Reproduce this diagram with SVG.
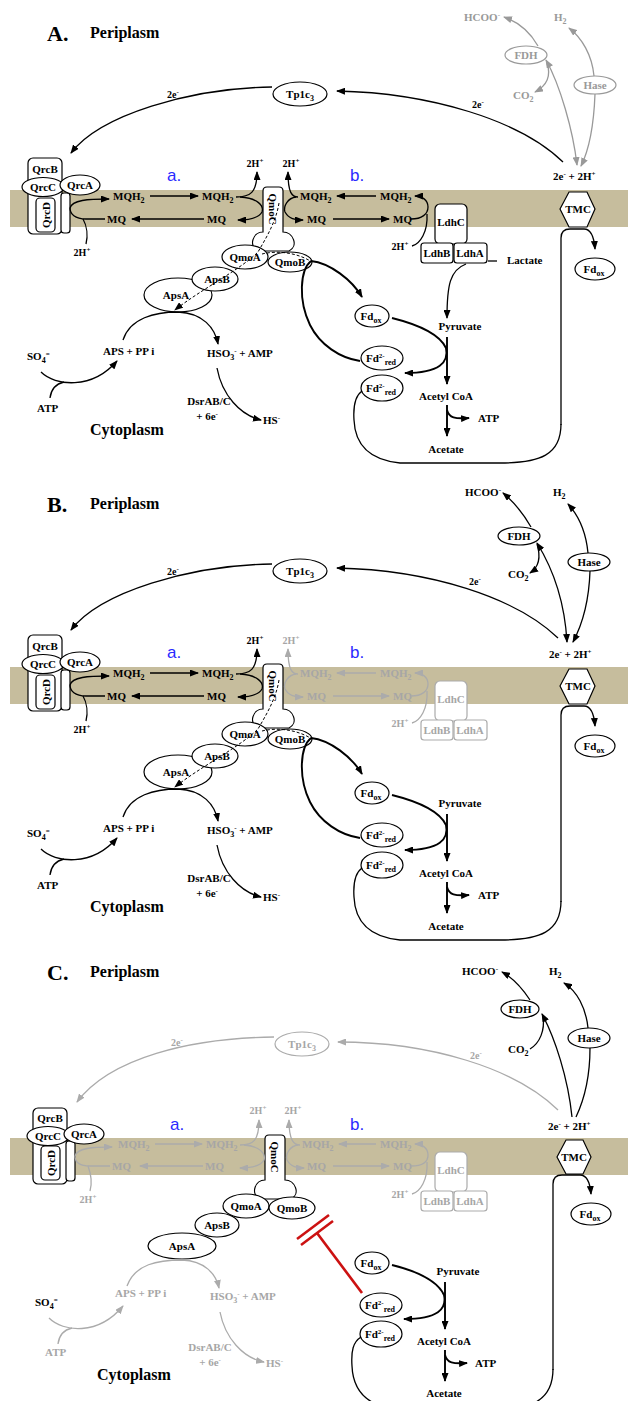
<svg xmlns="http://www.w3.org/2000/svg" width="628" height="1401" viewBox="0 0 628 1401">
<style>
.mem{fill:#c6bd9d}
.n{fill:#fff;stroke:#000;stroke-width:1.2}
.n.g{stroke:#ababab}
.n.ga{stroke:#999}
.t{font-family:"Liberation Serif","Times New Roman",serif;font-weight:bold;font-size:11px;fill:#000}
.t.g{fill:#a6a6a6}
.t.ga{fill:#999}
.s{font-size:10px}
.m{text-anchor:middle}
.sb{font-size:8px;baseline-shift:-2.5px}
.sp{font-size:7px;baseline-shift:4px}
.ti{font-family:"Liberation Serif",serif;font-weight:bold;font-size:22px}
.pl{font-family:"Liberation Serif",serif;font-weight:bold;font-size:16px}
.ab{font-family:"Liberation Sans",Arial,sans-serif;font-size:17px;fill:#2a2aff}
.l{fill:none;stroke:#000;stroke-width:1.3}
.l.g{stroke:#ababab}
.l.ga{stroke:#999}
.w{stroke-width:1.9}
.d{stroke-width:1;stroke-dasharray:3 2}
.r{fill:none;stroke:#cc1111;stroke-width:2.6}
</style>
<defs>
<marker id="ak" markerUnits="userSpaceOnUse" markerWidth="9" markerHeight="7" refX="8" refY="3.5" orient="auto-start-reverse"><path d="M0,0 L9,3.5 L0,7 z" fill="#000"/></marker>
<marker id="ag" markerUnits="userSpaceOnUse" markerWidth="9" markerHeight="7" refX="8" refY="3.5" orient="auto-start-reverse"><path d="M0,0 L9,3.5 L0,7 z" fill="#ababab"/></marker>
<marker id="aa" markerUnits="userSpaceOnUse" markerWidth="9" markerHeight="7" refX="8" refY="3.5" orient="auto-start-reverse"><path d="M0,0 L9,3.5 L0,7 z" fill="#999"/></marker>
</defs>
<rect width="628" height="1401" fill="#fff"/>

<!-- ================= PANEL A ================= -->
<g id="panelA">
<rect class="mem" x="10" y="190" width="618" height="37"/>
<g id="A-title"><text class="ti" x="47" y="41">A.</text><text class="pl" x="90" y="38">Periplasm</text></g>
<g id="A-ab"><text class="ab" x="167" y="181">a.</text><text class="ab" x="350" y="181">b.</text></g>
<g id="A-Tp1c3"><ellipse class="n" cx="300" cy="94" rx="27" ry="12"/><text class="t m" x="300" y="98">Tp1c<tspan class="sb">3</tspan></text></g>
<g id="A-Qrc">
<rect class="n" x="28" y="158" width="34" height="76" rx="5"/>
<rect class="n" x="61" y="193" width="9" height="40" rx="3"/>
<rect class="n" x="36" y="198" width="19" height="34" rx="4"/>
<text class="t m" x="45" y="173">QrcB</text>
<text class="t m" transform="translate(46,215) rotate(-90)" y="4">QrcD</text>
<ellipse class="n" cx="43" cy="187" rx="21" ry="9.5"/><text class="t m" x="43" y="191">QrcC</text>
<ellipse class="n" cx="80" cy="185" rx="20" ry="10"/><text class="t m" x="80" y="189">QrcA</text>
</g>
<g id="A-mq-a">
<text class="t" x="113" y="200">MQH<tspan class="sb">2</tspan></text>
<text class="t" x="202" y="200">MQH<tspan class="sb">2</tspan></text>
<text class="t" x="107" y="223">MQ</text>
<text class="t" x="207" y="223">MQ</text>
<text class="t s m" x="82" y="256">2H<tspan class="sp">+</tspan></text>
<text class="t s m" x="255" y="167">2H<tspan class="sp">+</tspan></text>
</g>
<g id="A-mq-b">
<text class="t" x="300" y="200">MQH<tspan class="sb">2</tspan></text>
<text class="t" x="380" y="200">MQH<tspan class="sb">2</tspan></text>
<text class="t" x="307" y="223">MQ</text>
<text class="t" x="393" y="223">MQ</text>
<text class="t s m" x="291" y="167">2H<tspan class="sp">+</tspan></text>
<text class="t s m" x="400" y="250">2H<tspan class="sp">+</tspan></text>
</g>
<g id="A-QmoC"><path class="n" d="M267 187 L279 187 Q283 187 283 191 L283 232 C293 232 299 246 289 251 L258 251 C248 246 253 232 263 232 L263 191 Q263 187 267 187 Z"/><text class="t m" transform="translate(273,209) rotate(90)" y="4">QmoC</text></g>
<g id="A-ApsA"><ellipse class="n" cx="178" cy="295" rx="34" ry="17"/><text class="t m" x="176" y="299">ApsA</text></g>
<g id="A-ApsB"><ellipse class="n" cx="215" cy="279" rx="23" ry="12"/><text class="t m" x="217" y="283">ApsB</text></g>
<g id="A-QmoA"><ellipse class="n" cx="245" cy="257" rx="23" ry="12"/><text class="t m" x="245" y="261">QmoA</text></g>
<g id="A-QmoB"><ellipse class="n" cx="290" cy="262" rx="22" ry="10"/><text class="t m" x="290" y="266">QmoB</text></g>
<g id="A-Ldh">
<rect class="n" x="435" y="204" width="32" height="40" rx="5"/><text class="t m" x="451" y="226">LdhC</text>
<rect class="n" x="421" y="243" width="32" height="20" rx="3"/><text class="t m" x="437" y="257">LdhB</text>
<rect class="n" x="454" y="243" width="33" height="20" rx="3"/><text class="t m" x="470" y="257">LdhA</text>
</g>
<g id="A-TMC"><polygon class="n" points="560,209 569,192 587,192 595,209 587,227 569,227"/><text class="t m" x="578" y="213">TMC</text></g>
<g id="A-Fdox2"><ellipse class="n" cx="595" cy="269" rx="20" ry="11"/><text class="t m" x="594" y="273">Fd<tspan class="sb">ox</tspan></text></g>
<g id="A-FDH"><ellipse class="n ga" cx="526" cy="55" rx="21" ry="9"/><text class="t ga m" x="526" y="59">FDH</text></g>
<g id="A-Hase"><ellipse class="n ga" cx="595" cy="85" rx="21" ry="9"/><text class="t ga m" x="595" y="89">Hase</text></g>
<g id="A-Fdox"><ellipse class="n" cx="372" cy="316" rx="17" ry="11"/><text class="t m" x="371" y="320">Fd<tspan class="sb">ox</tspan></text></g>
<g id="A-Fdred1"><ellipse class="n" cx="382" cy="358" rx="21" ry="12"/><text class="t m" x="381" y="362">Fd<tspan class="sp">2-</tspan><tspan class="sb">red</tspan></text></g>
<g id="A-Fdred2"><ellipse class="n" cx="382" cy="388" rx="21" ry="13"/><text class="t m" x="381" y="392">Fd<tspan class="sp">2-</tspan><tspan class="sb">red</tspan></text></g>
<g id="A-texts">
<text class="t ga" x="464" y="21">HCOO<tspan class="sp">-</tspan></text>
<text class="t ga" x="554" y="21">H<tspan class="sb">2</tspan></text>
<text class="t ga" x="513" y="99">CO<tspan class="sb">2</tspan></text>
<text class="t" x="553" y="180">2e<tspan class="sp">-</tspan> + 2H<tspan class="sp">+</tspan></text>
<text class="t s" x="472" y="108">2e<tspan class="sp">-</tspan></text>
<text class="t s" x="167" y="98">2e<tspan class="sp">-</tspan></text>
<text class="t" x="507" y="264">Lactate</text>
<text class="t m" x="460" y="330">Pyruvate</text>
<text class="t m" x="446" y="400">Acetyl CoA</text>
<text class="t" x="478" y="422">ATP</text>
<text class="t m" x="446" y="453">Acetate</text>
<text class="t" x="103" y="355">APS  + PP i</text>
<text class="t" x="207" y="357">HSO<tspan class="sb">3</tspan><tspan class="sp">-</tspan> + AMP</text>
<text class="t" x="27" y="360">SO<tspan class="sb">4</tspan><tspan class="sp">=</tspan></text>
<text class="t" x="37" y="412">ATP</text>
<text class="t m" x="209" y="405">DsrAB/C</text>
<text class="t m" x="207" y="420">+ 6e<tspan class="sp">-</tspan></text>
<text class="t" x="263" y="424">HS<tspan class="sp">-</tspan></text>
<text class="pl" x="90" y="435">Cytoplasm</text>
</g>
<g id="A-connectors">
<path class="l" d="M563 162 C520 120 430 93 337 91" marker-end="url(#ak)"/>
<path class="l" d="M272 87 C190 88 100 115 71 153" marker-end="url(#ak)"/>
<path class="l" d="M70 208 C72 200 88 199 109 199" marker-end="url(#ak)"/>
<path class="l" d="M105 219 L86 219 C75 219 70 214 70 208"/>
<path class="l" d="M83 219 C87 226 88 236 86 244"/>
<path class="l" d="M150 196 L198 196" marker-end="url(#ak)"/>
<path class="l" d="M204 219 L132 219" marker-end="url(#ak)"/>
<path class="l" d="M236 197 C250 197 257 193 257 172" marker-end="url(#ak)"/>
<path class="l" d="M240 197 C258 198 264 206 262 212 C258 219 248 220 238 220" marker-end="url(#ak)"/>
<path class="l" d="M298 197 C292 197 288 193 288 172" marker-end="url(#ak)"/>
<path class="l" d="M296 197 C288 198 283 206 285 212 C289 219 295 220 303 220" marker-end="url(#ak)"/>
<path class="l" d="M376 196 L337 196" marker-end="url(#ak)"/>
<path class="l" d="M333 219 L389 219" marker-end="url(#ak)"/>
<path class="l" d="M411 219 C422 219 428 214 428 207 C428 200 422 196 415 196" marker-end="url(#ak)"/>
<path class="l" d="M427 214 C428 232 420 244 412 246"/>
<path class="l" d="M497 261 L488 261"/>
<path class="l" d="M466 264 C450 270 447 285 447 318" marker-end="url(#ak)"/>
<path class="l w" d="M447 337 L447 384" marker-end="url(#ak)"/>
<path class="l w" d="M447 405 L447 436" marker-end="url(#ak)"/>
<path class="l w" d="M447 410 C449 418 455 419 469 418" marker-end="url(#ak)"/>
<path class="l w" d="M392 318 C420 325 440 335 446 348 C449 362 440 373 405 373" marker-end="url(#ak)"/>
<path class="l w" d="M311 261 C330 263 352 280 362 297" marker-end="url(#ak)"/>
<path class="l w" d="M311 261 C300 270 298 300 310 325 C320 345 340 358 360 361"/>
<path class="l" d="M561 425 L561 238 C561 232 564 229 570 229 L584 229 C591 229 594 236 595 249" marker-end="url(#ak)"/>
<path class="l" d="M561 424 C561 455 540 463 500 463 L400 463 C370 460 355 445 354 420 C353 405 355 396 362 391"/>
<path class="l" d="M123 340 C130 318 155 312 178 312 C203 313 215 328 218 344" marker-end="url(#ak)"/>
<path class="l" d="M41 372 C55 386 92 390 117 361" marker-end="url(#ak)"/>
<path class="l" d="M50 398 C51 390 55 384 64 382"/>
<path class="l" d="M217 368 C222 395 240 415 261 420" marker-end="url(#ak)"/>
<path class="l d" d="M279 203 C276 222 266 238 258 252 C240 270 200 290 175 310" marker-end="url(#ak)"/>
<path class="l d" d="M262 254 C278 250 298 253 312 262"/>
<path class="l ga" d="M538 46 C530 32 518 22 504 17" marker-end="url(#aa)"/>
<path class="l ga" d="M594 76 C592 55 582 38 569 28" marker-end="url(#aa)"/>
<path class="l ga" d="M595 94 C594 120 590 148 581 166" marker-end="url(#aa)"/>
<path class="l ga" d="M546 60 C560 85 573 130 577 165" marker-start="url(#aa)" marker-end="url(#aa)"/>
<path class="l ga" d="M547 63 C551 75 548 85 535 92" marker-end="url(#aa)"/>
</g>
</g>

<!-- ================= PANEL B ================= -->
<g id="panelB" transform="translate(0,477)">
<rect class="mem" x="10" y="190" width="618" height="37"/>
<g id="B-title"><text class="ti" x="47" y="35">B.</text><text class="pl" x="90" y="32">Periplasm</text></g>
<g id="B-ab"><text class="ab" x="167" y="181">a.</text><text class="ab" x="350" y="181">b.</text></g>
<g id="B-Tp1c3"><ellipse class="n" cx="300" cy="94" rx="27" ry="12"/><text class="t m" x="300" y="98">Tp1c<tspan class="sb">3</tspan></text></g>
<g id="B-Qrc">
<rect class="n" x="28" y="158" width="34" height="76" rx="5"/>
<rect class="n" x="61" y="193" width="9" height="40" rx="3"/>
<rect class="n" x="36" y="198" width="19" height="34" rx="4"/>
<text class="t m" x="45" y="173">QrcB</text>
<text class="t m" transform="translate(46,215) rotate(-90)" y="4">QrcD</text>
<ellipse class="n" cx="43" cy="187" rx="21" ry="9.5"/><text class="t m" x="43" y="191">QrcC</text>
<ellipse class="n" cx="80" cy="185" rx="20" ry="10"/><text class="t m" x="80" y="189">QrcA</text>
</g>
<g id="B-mq-a">
<text class="t" x="113" y="200">MQH<tspan class="sb">2</tspan></text>
<text class="t" x="202" y="200">MQH<tspan class="sb">2</tspan></text>
<text class="t" x="107" y="223">MQ</text>
<text class="t" x="207" y="223">MQ</text>
<text class="t s m" x="82" y="256">2H<tspan class="sp">+</tspan></text>
<text class="t s m" x="255" y="167">2H<tspan class="sp">+</tspan></text>
</g>
<g id="B-mq-b">
<text class="t g" x="300" y="200">MQH<tspan class="sb">2</tspan></text>
<text class="t g" x="380" y="200">MQH<tspan class="sb">2</tspan></text>
<text class="t g" x="307" y="223">MQ</text>
<text class="t g" x="393" y="223">MQ</text>
<text class="t g s m" x="291" y="167">2H<tspan class="sp">+</tspan></text>
<text class="t g s m" x="400" y="250">2H<tspan class="sp">+</tspan></text>
</g>
<g id="B-QmoC"><path class="n" d="M267 187 L279 187 Q283 187 283 191 L283 232 C293 232 299 246 289 251 L258 251 C248 246 253 232 263 232 L263 191 Q263 187 267 187 Z"/><text class="t m" transform="translate(273,209) rotate(90)" y="4">QmoC</text></g>
<g id="B-ApsA"><ellipse class="n" cx="178" cy="295" rx="34" ry="17"/><text class="t m" x="176" y="299">ApsA</text></g>
<g id="B-ApsB"><ellipse class="n" cx="215" cy="279" rx="23" ry="12"/><text class="t m" x="217" y="283">ApsB</text></g>
<g id="B-QmoA"><ellipse class="n" cx="245" cy="257" rx="23" ry="12"/><text class="t m" x="245" y="261">QmoA</text></g>
<g id="B-QmoB"><ellipse class="n" cx="290" cy="262" rx="22" ry="10"/><text class="t m" x="290" y="266">QmoB</text></g>
<g id="B-Ldh">
<rect class="n g" x="435" y="204" width="32" height="40" rx="5"/><text class="t g m" x="451" y="226">LdhC</text>
<rect class="n g" x="421" y="243" width="32" height="20" rx="3"/><text class="t g m" x="437" y="257">LdhB</text>
<rect class="n g" x="454" y="243" width="33" height="20" rx="3"/><text class="t g m" x="470" y="257">LdhA</text>
</g>
<g id="B-TMC"><polygon class="n" points="560,209 569,192 587,192 595,209 587,227 569,227"/><text class="t m" x="578" y="213">TMC</text></g>
<g id="B-Fdox2"><ellipse class="n" cx="595" cy="269" rx="20" ry="11"/><text class="t m" x="594" y="273">Fd<tspan class="sb">ox</tspan></text></g>
<g id="B-FDH"><ellipse class="n" cx="519" cy="59" rx="21" ry="9"/><text class="t m" x="519" y="63">FDH</text></g>
<g id="B-Hase"><ellipse class="n" cx="589" cy="85" rx="21" ry="9"/><text class="t m" x="589" y="89">Hase</text></g>
<g id="B-Fdox"><ellipse class="n" cx="372" cy="316" rx="17" ry="11"/><text class="t m" x="371" y="320">Fd<tspan class="sb">ox</tspan></text></g>
<g id="B-Fdred1"><ellipse class="n" cx="382" cy="358" rx="21" ry="12"/><text class="t m" x="381" y="362">Fd<tspan class="sp">2-</tspan><tspan class="sb">red</tspan></text></g>
<g id="B-Fdred2"><ellipse class="n" cx="382" cy="388" rx="21" ry="13"/><text class="t m" x="381" y="392">Fd<tspan class="sp">2-</tspan><tspan class="sb">red</tspan></text></g>
<g id="B-texts">
<text class="t" x="465" y="19">HCOO<tspan class="sp">-</tspan></text>
<text class="t" x="553" y="19">H<tspan class="sb">2</tspan></text>
<text class="t" x="508" y="101">CO<tspan class="sb">2</tspan></text>
<text class="t" x="549" y="181">2e<tspan class="sp">-</tspan> + 2H<tspan class="sp">+</tspan></text>
<text class="t s" x="469" y="108">2e<tspan class="sp">-</tspan></text>
<text class="t s" x="167" y="98">2e<tspan class="sp">-</tspan></text>
<text class="t m" x="460" y="330">Pyruvate</text>
<text class="t m" x="446" y="400">Acetyl CoA</text>
<text class="t" x="478" y="422">ATP</text>
<text class="t m" x="446" y="453">Acetate</text>
<text class="t" x="103" y="355">APS  + PP i</text>
<text class="t" x="207" y="357">HSO<tspan class="sb">3</tspan><tspan class="sp">-</tspan> + AMP</text>
<text class="t" x="27" y="360">SO<tspan class="sb">4</tspan><tspan class="sp">=</tspan></text>
<text class="t" x="37" y="412">ATP</text>
<text class="t m" x="209" y="405">DsrAB/C</text>
<text class="t m" x="207" y="420">+ 6e<tspan class="sp">-</tspan></text>
<text class="t" x="263" y="424">HS<tspan class="sp">-</tspan></text>
<text class="pl" x="90" y="435">Cytoplasm</text>
</g>
<g id="B-connectors">
<path class="l" d="M558 161 C515 120 430 93 337 91" marker-end="url(#ak)"/>
<path class="l" d="M272 87 C190 88 100 115 71 153" marker-end="url(#ak)"/>
<path class="l" d="M70 208 C72 200 88 199 109 199" marker-end="url(#ak)"/>
<path class="l" d="M105 219 L86 219 C75 219 70 214 70 208"/>
<path class="l" d="M83 219 C87 226 88 236 86 244"/>
<path class="l" d="M150 196 L198 196" marker-end="url(#ak)"/>
<path class="l" d="M204 219 L132 219" marker-end="url(#ak)"/>
<path class="l" d="M236 197 C250 197 257 193 257 172" marker-end="url(#ak)"/>
<path class="l" d="M240 197 C258 198 264 206 262 212 C258 219 248 220 238 220" marker-end="url(#ak)"/>
<path class="l g" d="M298 197 C292 197 288 193 288 172" marker-end="url(#ag)"/>
<path class="l g" d="M296 197 C288 198 283 206 285 212 C289 219 295 220 303 220" marker-end="url(#ag)"/>
<path class="l g" d="M376 196 L337 196" marker-end="url(#ag)"/>
<path class="l g" d="M333 219 L389 219" marker-end="url(#ag)"/>
<path class="l g" d="M411 219 C422 219 428 214 428 207 C428 200 422 196 415 196" marker-end="url(#ag)"/>
<path class="l g" d="M427 214 C428 232 420 244 412 246"/>
<path class="l w" d="M447 337 L447 384" marker-end="url(#ak)"/>
<path class="l w" d="M447 405 L447 436" marker-end="url(#ak)"/>
<path class="l w" d="M447 410 C449 418 455 419 469 418" marker-end="url(#ak)"/>
<path class="l w" d="M392 318 C420 325 440 335 446 348 C449 362 440 373 405 373" marker-end="url(#ak)"/>
<path class="l w" d="M311 261 C330 263 352 280 362 297" marker-end="url(#ak)"/>
<path class="l w" d="M311 261 C300 270 298 300 310 325 C320 345 340 358 360 361"/>
<path class="l" d="M561 425 L561 238 C561 232 564 229 570 229 L584 229 C591 229 594 236 595 249" marker-end="url(#ak)"/>
<path class="l" d="M561 424 C561 455 540 463 500 463 L400 463 C370 460 355 445 354 420 C353 405 355 396 362 391"/>
<path class="l" d="M123 340 C130 318 155 312 178 312 C203 313 215 328 218 344" marker-end="url(#ak)"/>
<path class="l" d="M41 372 C55 386 92 390 117 361" marker-end="url(#ak)"/>
<path class="l" d="M50 398 C51 390 55 384 64 382"/>
<path class="l" d="M217 368 C222 395 240 415 261 420" marker-end="url(#ak)"/>
<path class="l d" d="M279 203 C276 222 266 238 258 252 C240 270 200 290 175 310" marker-end="url(#ak)"/>
<path class="l d" d="M262 254 C278 250 298 253 312 262"/>
<path class="l" d="M531 50 C523 36 515 26 503 16" marker-end="url(#ak)"/>
<path class="l" d="M588 76 C586 55 578 38 568 27" marker-end="url(#ak)"/>
<path class="l" d="M590 94 C589 125 582 148 573 165" marker-end="url(#ak)"/>
<path class="l" d="M537 66 C555 95 565 130 567 165" marker-start="url(#ak)" marker-end="url(#ak)"/>
<path class="l" d="M537 67 C541 80 539 90 530 96" marker-end="url(#ak)"/>
</g>
</g>

<!-- ================= PANEL C ================= -->
<g id="panelC" transform="translate(0,948)">
<rect class="mem" x="10" y="190" width="618" height="37"/>
<g id="C-title"><text class="ti" x="47" y="32">C.</text><text class="pl" x="90" y="29">Periplasm</text></g>
<g id="C-ab"><text class="ab" x="170" y="182">a.</text><text class="ab" x="350" y="182">b.</text></g>
<g id="C-Tp1c3"><ellipse class="n g" cx="302" cy="96" rx="27" ry="12"/><text class="t g m" x="302" y="100">Tp1c<tspan class="sb">3</tspan></text></g>
<g id="C-Qrc">
<rect class="n" x="33" y="160" width="34" height="76" rx="5"/>
<rect class="n" x="66" y="193" width="9" height="40" rx="3"/>
<rect class="n" x="41" y="198" width="19" height="34" rx="4"/>
<text class="t m" x="50" y="174">QrcB</text>
<text class="t m" transform="translate(51,215) rotate(-90)" y="4">QrcD</text>
<ellipse class="n" cx="48" cy="188" rx="21" ry="9.5"/><text class="t m" x="48" y="192">QrcC</text>
<ellipse class="n" cx="84" cy="186" rx="20" ry="10"/><text class="t m" x="84" y="190">QrcA</text>
</g>
<g id="C-mq-a">
<text class="t g" x="118" y="200">MQH<tspan class="sb">2</tspan></text>
<text class="t g" x="206" y="200">MQH<tspan class="sb">2</tspan></text>
<text class="t g" x="112" y="222">MQ</text>
<text class="t g" x="205" y="222">MQ</text>
<text class="t g s m" x="88" y="255">2H<tspan class="sp">+</tspan></text>
<text class="t g s m" x="258" y="166">2H<tspan class="sp">+</tspan></text>
</g>
<g id="C-mq-b">
<text class="t g" x="302" y="200">MQH<tspan class="sb">2</tspan></text>
<text class="t g" x="380" y="200">MQH<tspan class="sb">2</tspan></text>
<text class="t g" x="307" y="222">MQ</text>
<text class="t g" x="393" y="222">MQ</text>
<text class="t g s m" x="293" y="166">2H<tspan class="sp">+</tspan></text>
<text class="t g s m" x="400" y="250">2H<tspan class="sp">+</tspan></text>
</g>
<g id="C-QmoC"><path class="n" d="M269 187 L281 187 Q285 187 285 191 L285 232 C295 232 301 246 291 251 L260 251 C250 246 255 232 265 232 L265 191 Q265 187 269 187 Z"/><text class="t m" transform="translate(275,209) rotate(90)" y="4">QmoC</text></g>
<g id="C-ApsA"><ellipse class="n" cx="182" cy="298" rx="34" ry="13"/><text class="t m" x="182" y="302">ApsA</text></g>
<g id="C-ApsB"><ellipse class="n" cx="217" cy="277" rx="22" ry="12"/><text class="t m" x="217" y="281">ApsB</text></g>
<g id="C-QmoA"><ellipse class="n" cx="246" cy="258" rx="23" ry="12"/><text class="t m" x="246" y="262">QmoA</text></g>
<g id="C-QmoB"><ellipse class="n" cx="292" cy="260" rx="23" ry="11"/><text class="t m" x="292" y="264">QmoB</text></g>
<g id="C-Ldh">
<rect class="n g" x="435" y="204" width="32" height="40" rx="5"/><text class="t g m" x="451" y="226">LdhC</text>
<rect class="n g" x="421" y="243" width="32" height="20" rx="3"/><text class="t g m" x="437" y="257">LdhB</text>
<rect class="n g" x="454" y="243" width="33" height="20" rx="3"/><text class="t g m" x="470" y="257">LdhA</text>
</g>
<g id="C-TMC"><polygon class="n" points="557,209 566,192 583,192 591,209 583,226 566,226"/><text class="t m" x="574" y="213">TMC</text></g>
<g id="C-Fdox2"><ellipse class="n" cx="591" cy="266" rx="20" ry="11"/><text class="t m" x="590" y="270">Fd<tspan class="sb">ox</tspan></text></g>
<g id="C-FDH"><ellipse class="n" cx="520" cy="61" rx="19" ry="9"/><text class="t m" x="520" y="65">FDH</text></g>
<g id="C-Hase"><ellipse class="n" cx="589" cy="90" rx="21" ry="10"/><text class="t m" x="589" y="94">Hase</text></g>
<g id="C-Fdox"><ellipse class="n" cx="372" cy="315" rx="17" ry="11"/><text class="t m" x="371" y="319">Fd<tspan class="sb">ox</tspan></text></g>
<g id="C-Fdred1"><ellipse class="n" cx="381" cy="357" rx="21" ry="12"/><text class="t m" x="380" y="361">Fd<tspan class="sp">2-</tspan><tspan class="sb">red</tspan></text></g>
<g id="C-Fdred2"><ellipse class="n" cx="381" cy="386" rx="21" ry="13"/><text class="t m" x="380" y="390">Fd<tspan class="sp">2-</tspan><tspan class="sb">red</tspan></text></g>
<g id="C-texts">
<text class="t" x="462" y="27">HCOO<tspan class="sp">-</tspan></text>
<text class="t" x="549" y="27">H<tspan class="sb">2</tspan></text>
<text class="t" x="508" y="105">CO<tspan class="sb">2</tspan></text>
<text class="t" x="548" y="182">2e<tspan class="sp">-</tspan> + 2H<tspan class="sp">+</tspan></text>
<text class="t g s" x="470" y="111">2e<tspan class="sp">-</tspan></text>
<text class="t g s" x="171" y="98">2e<tspan class="sp">-</tspan></text>
<text class="t m" x="458" y="327">Pyruvate</text>
<text class="t m" x="444" y="397">Acetyl CoA</text>
<text class="t" x="475" y="419">ATP</text>
<text class="t m" x="444" y="449">Acetate</text>
<text class="t g" x="115" y="349">APS  + PP i</text>
<text class="t g" x="210" y="352">HSO<tspan class="sb">3</tspan><tspan class="sp">-</tspan> + AMP</text>
<text class="t" x="35" y="358">SO<tspan class="sb">4</tspan><tspan class="sp">=</tspan></text>
<text class="t g" x="45" y="408">ATP</text>
<text class="t g m" x="210" y="403">DsrAB/C</text>
<text class="t g m" x="210" y="418">+ 6e<tspan class="sp">-</tspan></text>
<text class="t g" x="266" y="419">HS<tspan class="sp">-</tspan></text>
<text class="pl" x="97" y="432">Cytoplasm</text>
</g>
<g id="C-connectors">
<path class="l g" d="M558 162 C515 120 430 94 338 94" marker-end="url(#ag)"/>
<path class="l g" d="M274 89 C190 90 110 110 77 154" marker-end="url(#ag)"/>
<path class="l g" d="M75 208 C77 200 93 199 112 199" marker-end="url(#ag)"/>
<path class="l g" d="M110 218 L90 218 C80 218 75 214 75 208"/>
<path class="l g" d="M88 218 C91 226 92 236 90 243"/>
<path class="l g" d="M155 196 L202 196" marker-end="url(#ag)"/>
<path class="l g" d="M203 218 L140 218" marker-end="url(#ag)"/>
<path class="l g" d="M240 197 C253 197 259 193 259 172" marker-end="url(#ag)"/>
<path class="l g" d="M244 197 C260 198 266 206 264 212 C260 219 250 220 240 220" marker-end="url(#ag)"/>
<path class="l g" d="M300 197 C294 197 289 193 289 172" marker-end="url(#ag)"/>
<path class="l g" d="M298 197 C290 198 285 206 287 212 C291 219 297 220 304 220" marker-end="url(#ag)"/>
<path class="l g" d="M376 196 L339 196" marker-end="url(#ag)"/>
<path class="l g" d="M333 218 L389 218" marker-end="url(#ag)"/>
<path class="l g" d="M411 218 C422 218 428 214 428 207 C428 200 422 196 415 196" marker-end="url(#ag)"/>
<path class="l g" d="M427 214 C428 232 420 244 412 246"/>
<path class="l w" d="M445 334 L445 381" marker-end="url(#ak)"/>
<path class="l w" d="M445 402 L445 433" marker-end="url(#ak)"/>
<path class="l w" d="M445 407 C447 415 453 416 467 415" marker-end="url(#ak)"/>
<path class="l w" d="M392 317 C420 324 438 334 444 347 C447 361 438 371 404 371" marker-end="url(#ak)"/>
<path class="l" d="M553 422 L553 236 C553 230 556 227 562 227 L580 227 C587 227 590 234 591 246" marker-end="url(#ak)"/>
<path class="l" d="M553 421 C553 452 532 462 492 462 L400 462 C368 459 353 443 352 418 C351 403 353 394 361 389"/>
<path class="l g" d="M127 338 C135 316 158 312 182 312 C205 313 216 326 219 340" marker-end="url(#ag)"/>
<path class="l g" d="M49 370 C63 384 98 388 123 358" marker-end="url(#ag)"/>
<path class="l g" d="M58 396 C59 388 63 382 72 380"/>
<path class="l g" d="M220 364 C225 390 243 410 264 414" marker-end="url(#ag)"/>
<path class="l" d="M530 52 C522 40 513 30 502 24" marker-end="url(#ak)"/>
<path class="l" d="M588 80 C586 60 577 43 564 35" marker-end="url(#ak)"/>
<path class="l" d="M572 169 C568 130 555 90 542 66" marker-end="url(#ak)"/>
<path class="l" d="M590 100 C590 130 585 150 576 169"/>
<path class="l" d="M530 101 C540 95 545 82 543 69"/>
</g>
<g id="C-inhibition">
<path class="r" d="M362 345 L317 285"/>
<path class="r" d="M297 291 L329 267"/>
<path class="r" d="M301 297 L333 273"/>
</g>
</g>
</svg>
